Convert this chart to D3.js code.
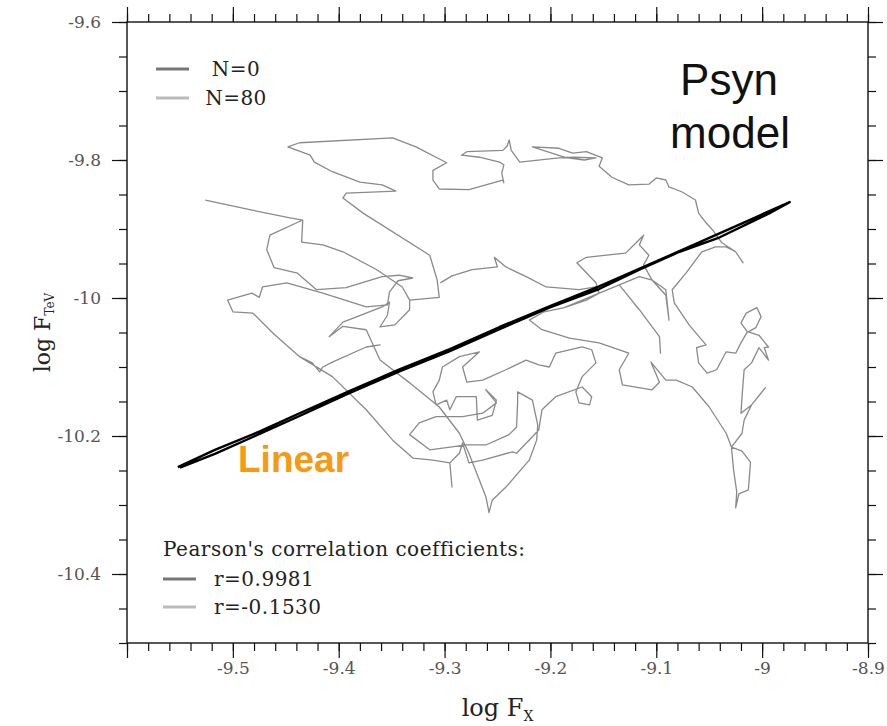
<!DOCTYPE html>
<html>
<head>
<meta charset="utf-8">
<script src="https://cdn.jsdelivr.net/npm/d3@7"></script>
<style>
body { margin: 0; background: #fff; }
</style>
</head>
<body>
<script>
// axis ranges and ticks
var xDomain = [-9.6, -8.9];
var yDomain = [-10.5, -9.6];
var xMajor = [-9.6, -9.5, -9.4, -9.3, -9.2, -9.1, -9.0, -8.9];
var yMajor = [-9.6, -9.8, -10.0, -10.2, -10.4];
var xMinorStep = 0.02;
var yMinorStep = 0.05;

// N=0 trace (log Fx, log FTeV): a narrow loop along the linear relation
var n0Trace = [
  [-9.552,-10.245],[-9.517,-10.220],[-9.474,-10.193],[-9.437,-10.167],[-9.390,-10.135],
  [-9.342,-10.103],[-9.295,-10.074],[-9.248,-10.042],[-9.201,-10.012],[-9.154,-9.983],
  [-9.106,-9.951],[-9.059,-9.919],[-9.012,-9.887],[-8.974,-9.861],
  [-8.993,-9.877],[-9.040,-9.912],[-9.078,-9.933],[-9.116,-9.959],[-9.154,-9.987],
  [-9.201,-10.014],[-9.248,-10.045],[-9.295,-10.077],[-9.342,-10.106],[-9.390,-10.138],
  [-9.437,-10.171],[-9.479,-10.200],[-9.517,-10.226],[-9.550,-10.246]
];

// N=80 trace (log Fx, log FTeV)
var n80Trace = [
  [-9.526,-9.858],[-9.484,-9.872],[-9.446,-9.884],[-9.434,-9.887],
  [-9.435,-9.919],[-9.415,-9.923],[-9.396,-9.933],[-9.364,-9.959],[-9.340,-9.984],[-9.333,-10.003],
  [-9.340,-9.984],[-9.364,-9.959],[-9.396,-9.933],[-9.415,-9.923],[-9.435,-9.919],[-9.434,-9.887],
  [-9.465,-9.909],[-9.468,-9.930],[-9.461,-9.956],[-9.439,-9.964],[-9.421,-9.988],[-9.393,-9.985],
  [-9.359,-9.969],[-9.343,-9.967],[-9.330,-9.971],[-9.344,-9.975],[-9.352,-9.991],[-9.354,-10.010],
  [-9.374,-10.013],[-9.415,-9.993],[-9.449,-9.978],[-9.472,-9.984],[-9.475,-9.999],[-9.482,-9.993],
  [-9.505,-10.003],[-9.500,-10.020],[-9.481,-10.022],[-9.462,-10.051],
  [-9.437,-10.085],[-9.425,-10.094],[-9.418,-10.107],[-9.415,-10.100],[-9.406,-10.093],[-9.374,-10.071],[-9.361,-10.068],
  [-9.374,-10.071],[-9.406,-10.093],[-9.415,-10.100],[-9.418,-10.107],[-9.425,-10.094],[-9.437,-10.085],
  [-9.406,-10.114],[-9.374,-10.162],[-9.349,-10.206],[-9.330,-10.232],[-9.311,-10.235],[-9.295,-10.239],
  [-9.293,-10.274],[-9.295,-10.239],[-9.286,-10.225],[-9.283,-10.210],[-9.277,-10.239],[-9.264,-10.235],
  [-9.236,-10.223],[-9.232,-10.225],[-9.217,-10.201],[-9.211,-10.191],[-9.208,-10.162],[-9.195,-10.143],
  [-9.170,-10.129],[-9.161,-10.143],[-9.163,-10.155],[-9.173,-10.152],[-9.176,-10.136],[-9.170,-10.114],
  [-9.157,-10.094],[-9.161,-10.075],[-9.170,-10.071],[-9.195,-10.080],[-9.201,-10.100],[-9.211,-10.097],
  [-9.223,-10.090],[-9.242,-10.104],[-9.264,-10.119],[-9.279,-10.122],[-9.283,-10.100],[-9.267,-10.078],
  [-9.286,-10.085],[-9.302,-10.100],[-9.305,-10.119],[-9.311,-10.136],[-9.308,-10.155],[-9.298,-10.148],
  [-9.295,-10.162],[-9.289,-10.143],[-9.270,-10.143],[-9.269,-10.177],[-9.255,-10.170],[-9.251,-10.148],
  [-9.261,-10.133],[-9.251,-10.152],[-9.264,-10.167],[-9.283,-10.172],[-9.308,-10.172],[-9.324,-10.181],
  [-9.333,-10.198],[-9.314,-10.220],[-9.279,-10.213],[-9.261,-10.213],[-9.239,-10.198],[-9.232,-10.187],
  [-9.231,-10.152],[-9.231,-10.136],[-9.217,-10.148],[-9.212,-10.184],[-9.213,-10.206],[-9.220,-10.235],
  [-9.242,-10.274],[-9.255,-10.293],[-9.258,-10.311],[-9.261,-10.288],[-9.277,-10.225],[-9.286,-10.196],
  [-9.305,-10.158],[-9.333,-10.123],[-9.361,-10.090],[-9.374,-10.046],[-9.396,-10.041],[-9.409,-10.056],
  [-9.396,-10.035],[-9.359,-10.013],[-9.352,-10.006],[-9.354,-10.025],[-9.361,-10.042],[-9.347,-10.039],
  [-9.333,-10.017],[-9.333,-10.003],[-9.305,-9.999],[-9.307,-9.974],[-9.314,-9.938],[-9.377,-9.877],
  [-9.396,-9.855],[-9.393,-9.848],[-9.346,-9.845],[-9.359,-9.836],[-9.380,-9.832],[-9.406,-9.817],
  [-9.423,-9.803],[-9.427,-9.793],[-9.448,-9.781],[-9.437,-9.775],[-9.349,-9.768],[-9.327,-9.781],
  [-9.298,-9.804],[-9.311,-9.815],[-9.311,-9.829],[-9.305,-9.842],[-9.277,-9.843],[-9.245,-9.829],
  [-9.244,-9.833],[-9.246,-9.819],[-9.244,-9.807],[-9.248,-9.803],[-9.267,-9.796],[-9.284,-9.793],
  [-9.279,-9.788],[-9.245,-9.786],[-9.241,-9.780],[-9.239,-9.771],[-9.237,-9.786],[-9.229,-9.803],
  [-9.192,-9.797],[-9.178,-9.796],[-9.157,-9.797],[-9.168,-9.800],[-9.187,-9.796],[-9.217,-9.781],
  [-9.192,-9.783],[-9.179,-9.790],[-9.166,-9.788],[-9.151,-9.797],[-9.154,-9.809],[-9.142,-9.825],
  [-9.126,-9.836],[-9.107,-9.835],[-9.100,-9.826],[-9.091,-9.829],[-9.088,-9.839],[-9.076,-9.846],
  [-9.063,-9.858],[-9.060,-9.877],[-9.053,-9.891],[-9.047,-9.901],[-9.038,-9.920],[-9.025,-9.933],
  [-9.018,-9.949],[-9.025,-9.933],[-9.034,-9.926],[-9.044,-9.926],[-9.057,-9.933],[-9.072,-9.964],
  [-9.085,-9.988],[-9.083,-10.007],[-9.069,-10.039],[-9.053,-10.068],[-9.062,-10.072],[-9.060,-10.094],
  [-9.052,-10.109],[-9.043,-10.104],[-9.034,-10.078],[-9.025,-10.080],[-9.020,-10.065],[-9.014,-10.049],
  [-9.020,-10.036],[-9.015,-10.022],[-9.005,-10.014],[-9.001,-10.027],[-9.006,-10.043],[-9.013,-10.049],
  [-9.003,-10.054],[-8.994,-10.071],[-8.998,-10.072],[-8.994,-10.090],[-9.003,-10.072],[-9.010,-10.094],
  [-9.017,-10.104],[-9.019,-10.143],[-9.020,-10.167],[-9.010,-10.155],[-8.997,-10.130],[-9.010,-10.155],
  [-9.017,-10.177],[-9.019,-10.196],[-9.029,-10.216],[-9.019,-10.222],[-9.011,-10.238],[-9.013,-10.278],
  [-9.022,-10.284],[-9.025,-10.304],[-9.024,-10.281],[-9.027,-10.249],[-9.029,-10.216],[-9.034,-10.196],
  [-9.050,-10.158],[-9.066,-10.129],[-9.081,-10.119],[-9.091,-10.119],[-9.105,-10.093],[-9.097,-10.122],
  [-9.104,-10.133],[-9.132,-10.126],[-9.135,-10.104],[-9.126,-10.080],[-9.154,-10.065],[-9.182,-10.058],
  [-9.208,-10.046],[-9.220,-10.032],[-9.206,-10.020],[-9.187,-10.014],[-9.135,-9.981],[-9.116,-10.017],
  [-9.097,-10.056],[-9.096,-10.080],[-9.097,-10.056],[-9.116,-10.017],[-9.135,-9.981],[-9.116,-9.969],
  [-9.104,-9.974],[-9.091,-9.988],[-9.088,-10.032],[-9.091,-9.996],[-9.104,-9.974],[-9.112,-9.952],
  [-9.107,-9.938],[-9.116,-9.923],[-9.112,-9.909],[-9.119,-9.920],[-9.129,-9.935],[-9.147,-9.938],
  [-9.166,-9.941],[-9.175,-9.949],[-9.157,-9.978],[-9.154,-9.993],[-9.166,-10.003],[-9.187,-10.014],
  [-9.166,-10.003],[-9.154,-9.993],[-9.157,-9.984],[-9.173,-9.988],[-9.204,-9.984],[-9.223,-9.969],
  [-9.242,-9.955],[-9.253,-9.941],[-9.250,-9.955],[-9.274,-9.959],[-9.293,-9.968],[-9.304,-9.978]
];

var seriesLabels = ["N=0", "N=80"];
var pearsonLabels = ["r=0.9981", "r=-0.1530"];

var width = 887;
var height = 726;
var margin = {top: 22, right: 19, bottom: 83, left: 127};
var serif = "'DejaVu Serif', serif";

var svg = d3.select("body")
    .append("svg")
    .attr("width", width)
    .attr("height", height);

var x = d3.scaleLinear().domain(xDomain).range([margin.left, width - margin.right]);
var y = d3.scaleLinear().domain(yDomain).range([height - margin.bottom, margin.top]);

function fmt(d) {
    return String(+d.toFixed(1));
}

var xMinor = d3.range(Math.round((xDomain[1] - xDomain[0]) / xMinorStep) + 1)
    .map(function(i) { return +(xDomain[0] + i * xMinorStep).toFixed(3); });
var yMinor = d3.range(Math.round((yDomain[1] - yDomain[0]) / yMinorStep) + 1)
    .map(function(i) { return +(yDomain[0] + i * yMinorStep).toFixed(3); });

function styleAxis(g) {
    g.select(".domain").remove();
    g.selectAll("line").attr("stroke", "#111").attr("stroke-width", 1.2);
    g.selectAll("text").attr("fill", "#555").attr("font-family", serif).attr("font-size", 17);
}

var x0 = y.range()[0], xTop = y.range()[1];
var yLeft = x.range()[0], yRight = x.range()[1];

// minor ticks
svg.append("g").attr("transform", "translate(0," + x0 + ")")
    .call(d3.axisBottom(x).tickValues(xMinor).tickSize(8).tickSizeOuter(0).tickFormat(""))
    .call(styleAxis);
svg.append("g").attr("transform", "translate(0," + xTop + ")")
    .call(d3.axisTop(x).tickValues(xMinor).tickSize(8).tickSizeOuter(0).tickFormat(""))
    .call(styleAxis);
svg.append("g").attr("transform", "translate(" + yLeft + ",0)")
    .call(d3.axisLeft(y).tickValues(yMinor).tickSize(8).tickSizeOuter(0).tickFormat(""))
    .call(styleAxis);
svg.append("g").attr("transform", "translate(" + yRight + ",0)")
    .call(d3.axisRight(y).tickValues(yMinor).tickSize(8).tickSizeOuter(0).tickFormat(""))
    .call(styleAxis);

// major ticks
svg.append("g").attr("transform", "translate(0," + x0 + ")")
    .call(d3.axisBottom(x).tickValues(xMajor).tickSize(15).tickSizeOuter(0).tickPadding(4)
        .tickFormat(function(d) { return d === xDomain[0] ? "" : fmt(d); }))
    .call(styleAxis);
svg.append("g").attr("transform", "translate(0," + xTop + ")")
    .call(d3.axisTop(x).tickValues(xMajor).tickSize(15).tickSizeOuter(0).tickFormat(""))
    .call(styleAxis);
svg.append("g").attr("transform", "translate(" + yLeft + ",0)")
    .call(d3.axisLeft(y).tickValues(yMajor).tickSize(15).tickSizeOuter(0).tickPadding(11).tickFormat(fmt))
    .call(styleAxis);
svg.append("g").attr("transform", "translate(" + yRight + ",0)")
    .call(d3.axisRight(y).tickValues(yMajor).tickSize(15).tickSizeOuter(0).tickFormat(""))
    .call(styleAxis);

// frame
svg.append("rect")
    .attr("x", yLeft).attr("y", xTop)
    .attr("width", yRight - yLeft).attr("height", x0 - xTop)
    .attr("fill", "none").attr("stroke", "#111").attr("stroke-width", 1.4);

// traces
var line = d3.line()
    .x(function(d) { return x(d[0]); })
    .y(function(d) { return y(d[1]); });

svg.append("path")
    .datum(n80Trace)
    .attr("d", line)
    .attr("fill", "none")
    .attr("stroke", "#8a8a8a")
    .attr("stroke-width", 1.3)
    .attr("stroke-linejoin", "round");

svg.append("path")
    .datum(n0Trace)
    .attr("d", line)
    .attr("fill", "none")
    .attr("stroke", "#000")
    .attr("stroke-width", 2.4)
    .attr("stroke-linejoin", "round");

// axis titles
var xt = svg.append("text")
    .attr("x", (yLeft + yRight) / 2).attr("y", 716)
    .attr("text-anchor", "middle")
    .attr("font-family", serif).attr("font-size", 24).attr("fill", "#222");
xt.append("tspan").text("log F");
xt.append("tspan").attr("font-size", 14).attr("dy", 5).text("X");

var yt = svg.append("text")
    .attr("transform", "translate(50," + ((xTop + x0) / 2) + ") rotate(-90)")
    .attr("text-anchor", "middle")
    .attr("font-family", serif).attr("font-size", 22).attr("fill", "#222");
yt.append("tspan").text("log F");
yt.append("tspan").attr("font-size", 12).attr("dy", 4).text("TeV");

// top legend
var legendColors = ["#777", "#bbb"];
var legendFont = 20;
seriesLabels.forEach(function(lab, i) {
    var ly = 69 + i * 29;
    svg.append("line")
        .attr("x1", 156).attr("x2", 189).attr("y1", ly).attr("y2", ly)
        .attr("stroke", legendColors[i]).attr("stroke-width", 3);
    svg.append("text")
        .attr("x", 236).attr("y", ly + 7)
        .attr("text-anchor", "middle")
        .attr("font-family", serif).attr("font-size", legendFont).attr("letter-spacing", 0.5)
        .attr("fill", "#222")
        .text(lab);
});

// bottom legend
svg.append("text")
    .attr("x", 163).attr("y", 556)
    .attr("font-family", serif).attr("font-size", legendFont).attr("letter-spacing", 0.5)
    .attr("fill", "#222")
    .text("Pearson's correlation coefficients:");
pearsonLabels.forEach(function(lab, i) {
    var ly = 579 + i * 28;
    svg.append("line")
        .attr("x1", 163).attr("x2", 196).attr("y1", ly).attr("y2", ly)
        .attr("stroke", legendColors[i]).attr("stroke-width", 3);
    svg.append("text")
        .attr("x", 214).attr("y", ly + 7)
        .attr("font-family", serif).attr("font-size", legendFont).attr("letter-spacing", 0.5)
        .attr("fill", "#222")
        .text(lab);
});

// annotations
svg.append("text")
    .attr("x", 729).attr("y", 95)
    .attr("text-anchor", "middle")
    .attr("font-family", "'Liberation Sans', Arial, sans-serif").attr("font-size", 44).attr("fill", "#111")
    .text("Psyn");
svg.append("text")
    .attr("x", 730).attr("y", 148)
    .attr("text-anchor", "middle")
    .attr("font-family", "'Liberation Sans', Arial, sans-serif").attr("font-size", 44).attr("fill", "#111")
    .text("model");
svg.append("text")
    .attr("x", 238).attr("y", 472)
    .attr("font-family", "'Liberation Sans', Arial, sans-serif").attr("font-weight", "bold")
    .attr("font-size", 37).attr("fill", "#f59a12")
    .text("Linear");
</script>
</body>
</html>
